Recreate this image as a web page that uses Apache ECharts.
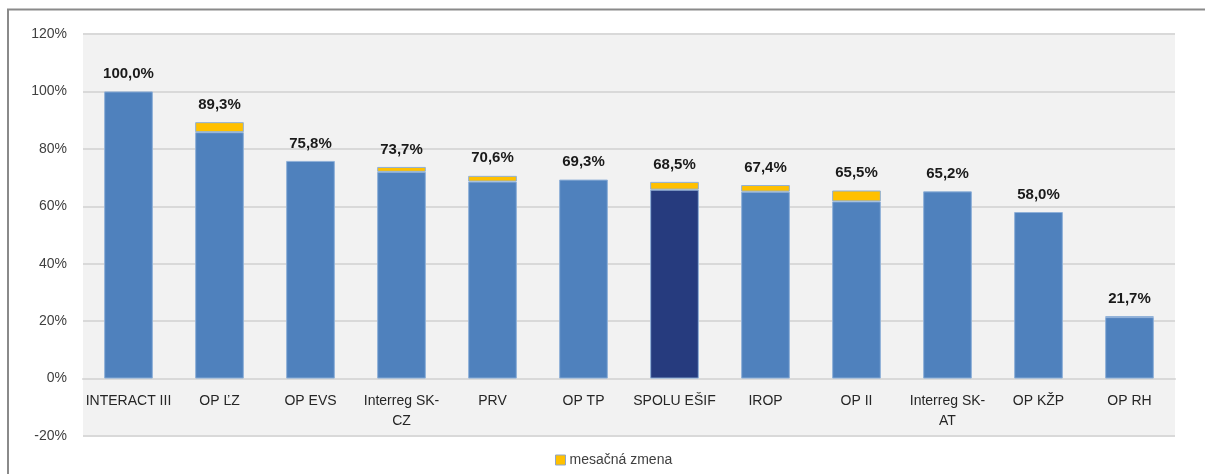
<!DOCTYPE html>
<html><head><meta charset="utf-8">
<script src="https://cdn.jsdelivr.net/npm/echarts@6/dist/echarts.min.js"></script>
<style>html,body{margin:0;padding:0;background:#fff}#c{width:1205px;height:474px}</style>
</head><body><div id="c"></div>
<script>
const categories = ["INTERACT III","OP ĽZ","OP EVS","Interreg SK-CZ","PRV","OP TP","SPOLU EŠIF","IROP","OP II","Interreg SK-AT","OP KŽP","OP RH"];
const totals = [100.0, 89.3, 75.8, 73.7, 70.6, 69.3, 68.5, 67.4, 65.5, 65.2, 58.0, 21.7];
const monthlyChange = [0, 3.5, 0, 1.7, 2.0, 0, 2.7, 2.3, 3.8, 0, 0, 0.3];
const yTicks = [-20, 0, 20, 40, 60, 80, 100, 120];
const highlight = "SPOLU EŠIF";

const base = totals.map((t, i) => +(t - monthlyChange[i]).toFixed(1));
const font = "Liberation Sans";
const gridTop = 34, gridBottom = 38, H = 474;
const yMin = yTicks[0], yMax = yTicks[yTicks.length - 1];
const zeroOffset = (H - gridTop - gridBottom) * (0 - yMin) / (yMax - yMin);

const chart = echarts.init(document.getElementById('c'), null, {renderer: 'canvas'});
chart.setOption({
  animation: false,
  textStyle: {fontFamily: font},
  graphic: [{
    type: 'polyline', silent: true,
    shape: {points: [[8, 480], [8, 9.5], [1210, 9.5]]},
    style: {stroke: '#8a8a8a', lineWidth: 2, fill: null}
  }],
  legend: {
    bottom: 2, left: 550, data: ['mesačná zmena'],
    icon: 'rect',
    itemWidth: 10, itemHeight: 10, itemGap: 4,
    itemStyle: {borderColor: '#8fa6c8', borderWidth: 1},
    textStyle: {fontSize: 14, color: '#404040', fontFamily: font, padding: [0, 0, 0, -1]}
  },
  grid: {left: 83, right: 30, top: gridTop, bottom: gridBottom, show: true, backgroundColor: '#f2f2f2', borderWidth: 0, containLabel: false, outerBoundsMode: 'none'},
  xAxis: {
    type: 'category', data: categories,
    offset: -zeroOffset,
    axisLine: {show: true, onZero: false, lineStyle: {color: '#d9d9d9', width: 2}},
    axisTick: {show: false},
    axisLabel: {
      interval: 0, margin: 13, fontSize: 14, color: '#262626', lineHeight: 20, fontFamily: font,
      formatter: v => v.replace('SK-', 'SK-\n')
    }
  },
  yAxis: {
    type: 'value', min: yMin, max: yMax, interval: 20,
    axisLine: {show: false}, axisTick: {show: false},
    axisLabel: {formatter: v => v + '%', fontSize: 14, color: '#404040', margin: 16, fontFamily: font},
    splitLine: {lineStyle: {color: '#d9d9d9', width: 2}}
  },
  series: [{
    name: 'čerpanie', type: 'bar', stack: 's', barWidth: '53.5%',
    data: base.map((v, i) => ({
      value: v,
      itemStyle: {color: categories[i] === highlight ? '#263b7e' : '#4f81bd'}
    })),
    itemStyle: {borderColor: '#8fb0d8', borderWidth: 1}
  }, {
    name: 'mesačná zmena', type: 'bar', stack: 's', barWidth: '53.5%',
    data: monthlyChange.map(v => ({value: v, itemStyle: {borderWidth: v > 0 ? 1 : 0}})),
    itemStyle: {color: '#ffc000', borderColor: '#8fb0d8'},
    label: {
      show: true, position: 'top', distance: 10,
      fontSize: 15, fontWeight: 'bold', color: '#1a1a1a', fontFamily: font,
      formatter: p => totals[p.dataIndex].toFixed(1).replace('.', ',') + '%'
    }
  }]
});
</script></body></html>
